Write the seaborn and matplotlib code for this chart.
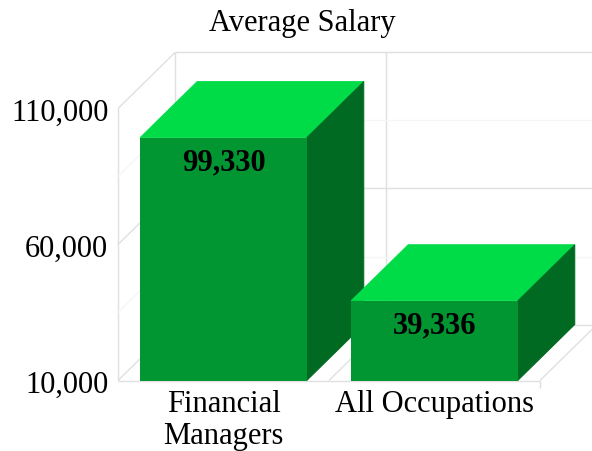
import matplotlib
matplotlib.use("Agg")
import matplotlib.pyplot as plt
import pandas as pd
import seaborn as sns

categories = ["Financial\nManagers", "All Occupations"]
salaries = [99330, 39336]
value_labels = ["99,330", "39,336"]
major_ticks = [10000, 60000, 110000]
minor_ticks = [35000, 85000]
tick_labels = ["10,000", "60,000", "110,000"]

FRONT = "#029633"
TOP = "#00DC48"
SIDE = "#016A22"
GRID = "#E0E0E0"
FAINT = "#F5F5F5"
W, H = 592, 452
BAR_WIDTH = 0.79
FONT_SIZE = 22

sns.set_style("white")
plt.rcParams["font.family"] = ["Liberation Serif", "DejaVu Serif"]

fig = plt.figure(figsize=(W / 100, H / 100), dpi=100)
# front plane of the fake 3d box, in pixels of the image
ax = fig.add_axes([118 / W, 1 - 381.5 / H, 422 / W, 272 / H])
ax.patch.set_alpha(0)

df = pd.DataFrame({"category": categories, "salary": salaries})
ax.set_ylim(major_ticks[0], major_ticks[-1])

# depth of the box, as data units (57 px right, 56 px up)
DX = 57 / 211
DY = 56 / 272 * (major_ticks[-1] - major_ticks[0])
X0, X1 = -0.5, 1.5
Y0, Y1 = major_ticks[0], major_ticks[-1]


def line(xs, ys, color=GRID, lw=1.0, z=0.5):
    ax.plot(xs, ys, color=color, lw=lw, clip_on=False, zorder=z, solid_capstyle="butt")


# walls and floor
line([X0, X0], [Y0, Y1])
line([X0 + DX, X0 + DX], [Y0 + DY, Y1 + DY])
line([X0, X1], [Y0, Y0])
line([X1, X1 + DX], [Y0, Y0 + DY])
line([0.5, 0.5 + DX], [Y0, Y0 + DY], GRID)
line([0.5 + DX, 0.5 + DX], [Y0 + DY, Y1 + DY])
line([X1, X1], [Y0, Y0 - 2600])
for t in major_ticks:
    line([X0, X0 + DX], [t, t + DY])
    line([X0 + DX, X1 + DX], [t + DY, t + DY])
for t in minor_ticks:
    line([X0, X0 + DX], [t, t + DY], FAINT)
    line([X0 + DX, X1 + DX], [t + DY, t + DY], FAINT)

sns.barplot(
    data=df, x="category", y="salary", ax=ax, color=FRONT, saturation=1,
    width=BAR_WIDTH, linewidth=0, edgecolor="none", zorder=3,
)
ax.set_xlim(X0, X1)
ax.set_ylim(Y0, Y1)

for i, (val, lab) in enumerate(zip(salaries, value_labels)):
    left, right = i - BAR_WIDTH / 2, i + BAR_WIDTH / 2
    # later bars sit in front of earlier ones; thin edge closes the seams
    ax.fill(
        [left, right, right + DX, left + DX],
        [val, val, val + DY, val + DY],
        facecolor=TOP, edgecolor=TOP, lw=0.6, clip_on=False, zorder=2 + i * 0.2,
    )
    ax.fill(
        [right, right + DX, right + DX, right],
        [Y0, Y0 + DY, val + DY, val],
        facecolor=SIDE, edgecolor=SIDE, lw=0.6, clip_on=False, zorder=2.1 + i * 0.2,
    )
    ax.annotate(
        lab, (i, val), xytext=(0, -24), textcoords="offset pixels", ha="center",
        va="center", fontsize=FONT_SIZE, fontweight="bold", color="black", zorder=5,
    )

sns.despine(ax=ax, left=True, bottom=True)
ax.set_xlabel("")
ax.set_ylabel("")
ax.set_yticks(major_ticks, tick_labels)
ax.tick_params(axis="y", length=0, pad=7, labelsize=FONT_SIZE, labelcolor="black")
ax.tick_params(axis="x", length=0, pad=6, labelsize=FONT_SIZE, labelcolor="black")
for label in ax.get_xticklabels():
    label.set_linespacing(1.16)

fig.text(302 / W, 1 - 24 / H, "Average Salary", ha="center", va="center", fontsize=FONT_SIZE, color="black")

fig.savefig("out.png", dpi=100)
